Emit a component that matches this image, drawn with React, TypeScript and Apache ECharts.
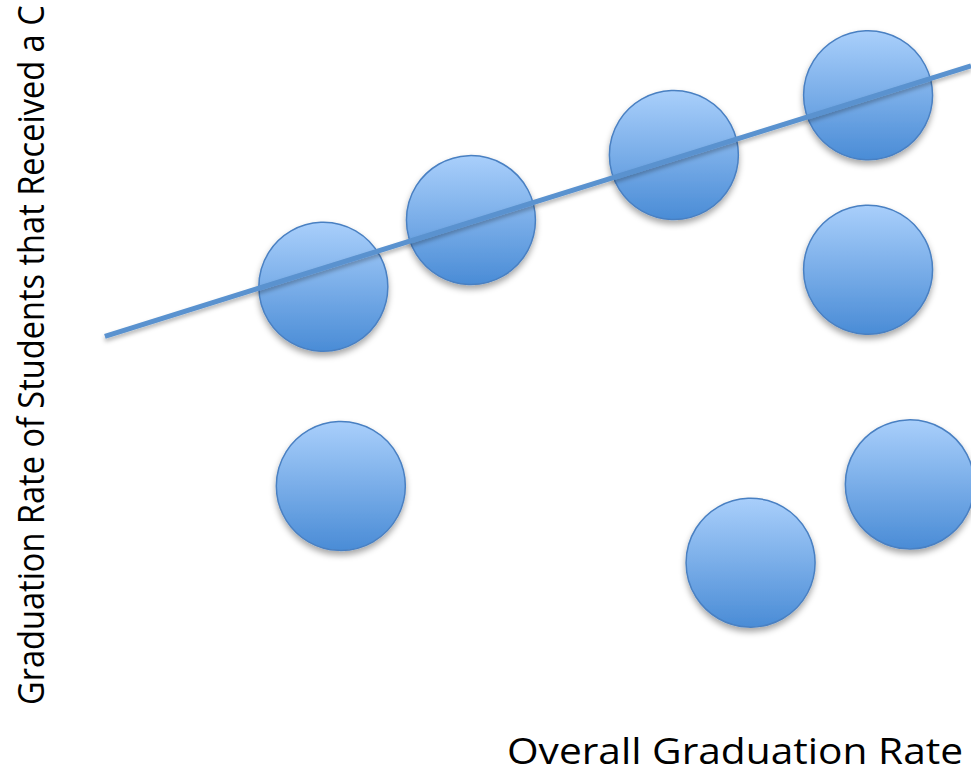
import React, { useEffect, useRef } from "react";
import * as echarts from "echarts";

// Scatter points [overall graduation rate, graduation rate of students that received a C]
const pointsX = [33.3, 48.5, 69.4, 89.4, 89.4, 35.1, 77.3, 93.7];
const pointsY = [63.0, 71.6, 80.0, 87.7, 65.2, 37.3, 27.4, 37.5];
// Trend line end points
const trendX = [10.8, 100];
const trendY = [56.6, 91.5];

const xTitle = "Overall Graduation Rate";
const yTitle = "Graduation Rate of Students that Received a C";

export default function App() {
  const ref = useRef<HTMLDivElement>(null);
  useEffect(() => {
    if (!ref.current) return;
    const chart = echarts.init(ref.current, undefined, { renderer: "svg" });
    const fill = new echarts.graphic.LinearGradient(0, 0, 0, 1, [
      { offset: 0, color: "#a9cffb" },
      { offset: 1, color: "#4a8cd6" },
    ]);
    chart.setOption({
      animation: false,
      backgroundColor: "#ffffff",
      grid: { left: 0, right: 0, top: 0, bottom: 0 },
      xAxis: { type: "value", min: 0, max: 100, show: false },
      yAxis: { type: "value", min: 0, max: 100, show: false },
      series: [
        {
          type: "scatter",
          symbol: "circle",
          symbolSize: 129,
          data: pointsX.map((x, i) => [x, pointsY[i]]),
          itemStyle: {
            color: fill,
            borderColor: "#4a80c2",
            borderWidth: 1.5,
            opacity: 1,
            shadowBlur: 6,
            shadowOffsetY: 4,
            shadowColor: "rgba(0,0,0,0.35)",
          },
          z: 2,
        },
        {
          type: "line",
          data: trendX.map((x, i) => [x, trendY[i]]),
          symbol: "none",
          lineStyle: {
            color: "#5a92cf",
            width: 5,
            shadowBlur: 4,
            shadowOffsetY: 3,
            shadowColor: "rgba(0,0,0,0.3)",
          },
          z: 3,
        },
      ],
      graphic: [
        {
          type: "text",
          x: 735,
          y: 750,
          scaleX: 1.13,
          style: {
            text: xTitle,
            fontFamily: "Open Sans",
            fontSize: 36,
            fill: "#000000",
            textAlign: "center",
            textVerticalAlign: "middle",
          },
        },
        {
          type: "text",
          x: 30,
          y: 705,
          rotation: Math.PI / 2,
          scaleX: 0.88,
          style: {
            text: yTitle,
            fontFamily: "Open Sans",
            fontSize: 37,
            fill: "#000000",
            textAlign: "left",
            textVerticalAlign: "middle",
          },
        },
      ],
    });
    return () => chart.dispose();
  }, []);
  return (
    <div
      ref={ref}
      style={{ position: "fixed", left: 0, top: 0, width: 971, height: 775 }}
    />
  );
}
